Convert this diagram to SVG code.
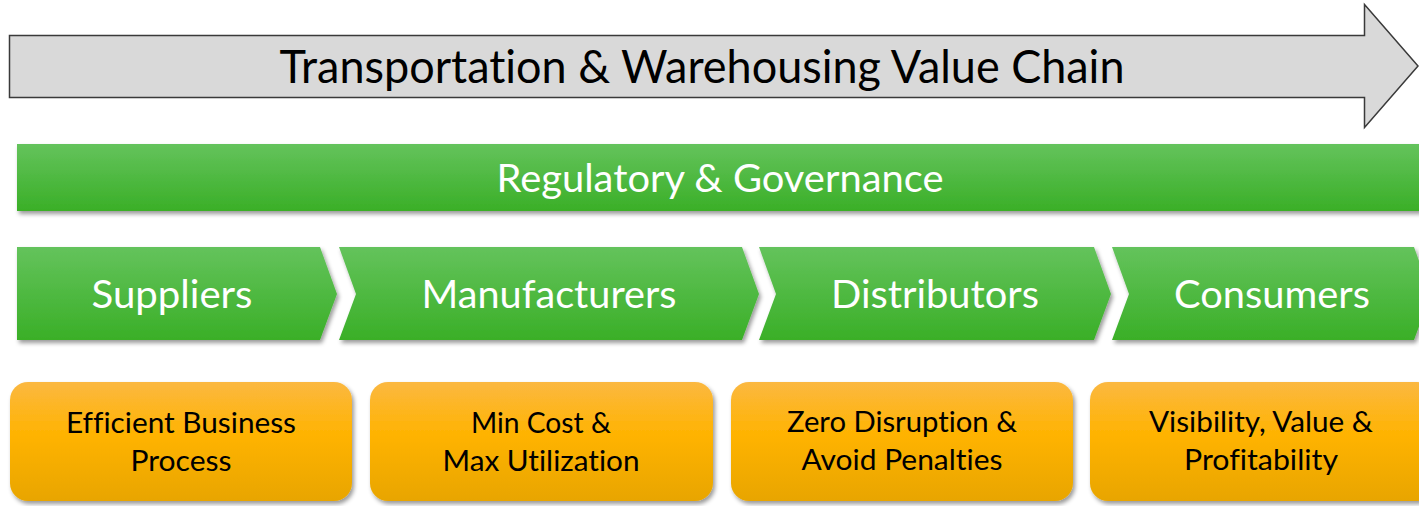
<svg xmlns="http://www.w3.org/2000/svg" width="1419" height="506" viewBox="0 0 1419 506">
<defs>
<linearGradient id="g" x1="0" y1="0" x2="0" y2="1">
<stop offset="0" stop-color="#64c35c"/><stop offset="1" stop-color="#3aaf27"/>
</linearGradient>
<linearGradient id="o" x1="0" y1="0" x2="0" y2="1">
<stop offset="0" stop-color="#fbb841"/><stop offset="0.45" stop-color="#ffb300"/><stop offset="1" stop-color="#e8a500"/>
</linearGradient>
<filter id="sh" x="-5%" y="-20%" width="110%" height="150%">
<feDropShadow dx="2" dy="3" stdDeviation="2" flood-color="#000" flood-opacity="0.4"/>
</filter>
<style>
.t{font-family:Lato,"Liberation Sans",sans-serif;text-anchor:middle;font-variant-ligatures:none}
.w{fill:#fff}
.k{fill:#000}
.grn{fill:url(#g);filter:url(#sh)}
.org{fill:url(#o);filter:url(#sh)}
</style>
</defs>
<g id="value-chain">
<path d="M9.5,35.5 H1364.5 V4.5 L1418,66 L1364.5,127.5 V97.5 H9.5 Z" fill="#d9d9d9" stroke="#3a3a3a" stroke-width="1.5"/>
<text class="t k" x="702" y="83" font-size="46" textLength="845" lengthAdjust="spacingAndGlyphs">Transportation &amp; Warehousing Value Chain</text>
</g>
<g id="regulatory">
<rect class="grn" x="17" y="144" width="1410" height="67"/>
<text class="t w" x="720" y="192" font-size="39" textLength="447" lengthAdjust="spacingAndGlyphs">Regulatory &amp; Governance</text>
</g>
<g id="suppliers">
<path class="grn" d="M17,247 H320 L337,294 L320,340 H17 Z"/>
<text class="t w" x="172" y="308" font-size="39" textLength="161" lengthAdjust="spacingAndGlyphs">Suppliers</text>
</g>
<g id="manufacturers">
<path class="grn" d="M339,247 H742 L759,294 L742,340 H339 L356,294 Z"/>
<text class="t w" x="549" y="308" font-size="39" textLength="255" lengthAdjust="spacingAndGlyphs">Manufacturers</text>
</g>
<g id="distributors">
<path class="grn" d="M759,247 H1094 L1111,294 L1094,340 H759 L776,294 Z"/>
<text class="t w" x="935" y="308" font-size="39" textLength="208" lengthAdjust="spacingAndGlyphs">Distributors</text>
</g>
<g id="consumers">
<path class="grn" d="M1112,247 H1414 L1431,294 L1414,340 H1112 L1129,294 Z"/>
<text class="t w" x="1272" y="308" font-size="39" textLength="196" lengthAdjust="spacingAndGlyphs">Consumers</text>
</g>
<g id="efficient">
<rect class="org" x="10" y="382" width="342" height="119" rx="18"/>
<text class="t k" x="181" y="433" font-size="28" textLength="230" lengthAdjust="spacingAndGlyphs">Efficient Business</text>
<text class="t k" x="181" y="471" font-size="28" textLength="101" lengthAdjust="spacingAndGlyphs">Process</text>
</g>
<g id="mincost">
<rect class="org" x="370" y="382" width="343" height="119" rx="18"/>
<text class="t k" x="541" y="433" font-size="28" textLength="140" lengthAdjust="spacingAndGlyphs">Min Cost &amp;</text>
<text class="t k" x="541" y="471" font-size="28" textLength="197" lengthAdjust="spacingAndGlyphs">Max Utilization</text>
</g>
<g id="zero">
<rect class="org" x="731" y="382" width="342" height="119" rx="18"/>
<text class="t k" x="902" y="432" font-size="28" textLength="230" lengthAdjust="spacingAndGlyphs">Zero Disruption &amp;</text>
<text class="t k" x="902" y="470" font-size="28" textLength="201" lengthAdjust="spacingAndGlyphs">Avoid Penalties</text>
</g>
<g id="visibility">
<rect class="org" x="1090" y="382" width="345" height="119" rx="18"/>
<text class="t k" x="1261" y="432" font-size="28" textLength="224" lengthAdjust="spacingAndGlyphs">Visibility, Value &amp;</text>
<text class="t k" x="1261" y="470" font-size="28" textLength="154" lengthAdjust="spacingAndGlyphs">Profitability</text>
</g>
<g id="connectors"/>
</svg>
